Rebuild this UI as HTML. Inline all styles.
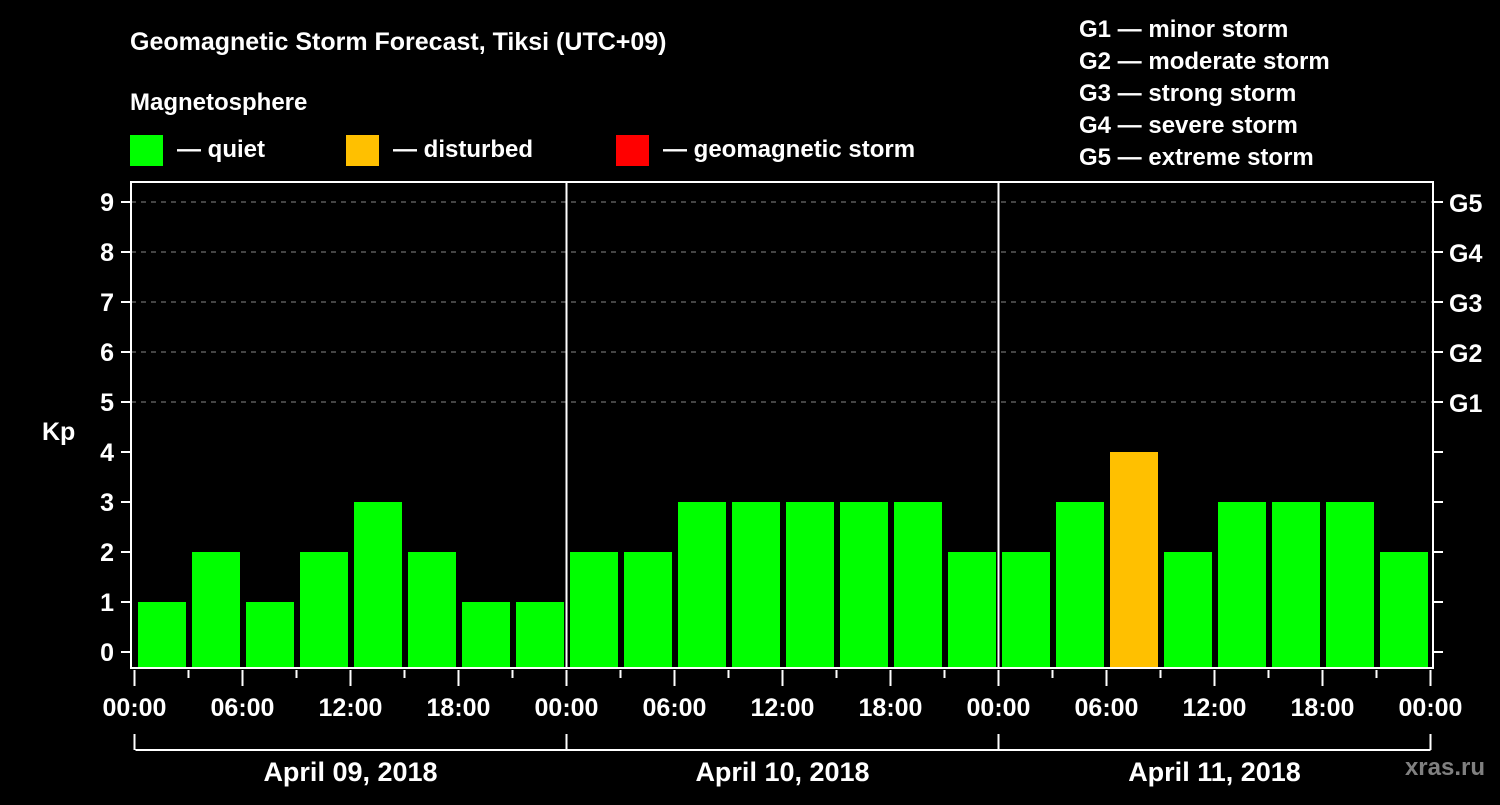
<!DOCTYPE html>
<html><head><meta charset="utf-8"><style>
body{margin:0;background:#000;width:1500px;height:800px;overflow:hidden;font-family:"Liberation Sans",sans-serif}
svg text{font-family:"Liberation Sans",sans-serif;font-weight:bold;fill:#fff}
</style></head><body>
<svg id="c" width="1500" height="800">
<text x="130" y="50" font-size="25">Geomagnetic Storm Forecast, Tiksi (UTC+09)</text>
<text x="130" y="110" font-size="24">Magnetosphere</text>
<rect x="130" y="135" width="33" height="31" fill="#00ff00"/>
<text x="177" y="157" font-size="24">— quiet</text>
<rect x="346" y="135" width="33" height="31" fill="#ffc000"/>
<text x="393" y="157" font-size="24">— disturbed</text>
<rect x="616" y="135" width="33" height="31" fill="#ff0000"/>
<text x="663" y="157" font-size="24">— geomagnetic storm</text>
<g font-size="24">
<text x="1079" y="37">G1 — minor storm</text>
<text x="1079" y="69">G2 — moderate storm</text>
<text x="1079" y="101">G3 — strong storm</text>
<text x="1079" y="133">G4 — severe storm</text>
<text x="1079" y="165">G5 — extreme storm</text>
</g>
<text x="42" y="440" font-size="25">Kp</text>
<text x="1485" y="775" font-size="24" text-anchor="end" style="fill:#808080">xras.ru</text>
<g id="plot"></g>
</svg>
<script>
const kpValues=[1,2,1,2,3,2,1,1, 2,2,3,3,3,3,3,2, 2,3,4,2,3,3,3,2];
const yTicks=[0,1,2,3,4,5,6,7,8,9];
const gLabels=["G1","G2","G3","G4","G5"];
const xTickLabels=["00:00","06:00","12:00","18:00","00:00","06:00","12:00","18:00","00:00","06:00","12:00","18:00","00:00"];
const dayLabels=["April 09, 2018","April 10, 2018","April 11, 2018"];
const NS="http://www.w3.org/2000/svg";
const g=document.getElementById('plot');
const X0=134.5,PXH=18,Y0=652,PXK=50,TOP=182,BOT=668,LEFT=131,RIGHT=1433;
const xs=h=>X0+h*PXH, ys=v=>Y0-v*PXK;
function mk(t,a){const e=document.createElementNS(NS,t);for(const k in a)e.setAttribute(k,a[k]);g.appendChild(e);return e;}
// grid
for(let v=5;v<=9;v++){const e=mk('line',{x1:LEFT,x2:RIGHT,y1:ys(v),y2:ys(v),stroke:'#888','stroke-dasharray':'5,5','stroke-width':1});

}
// bars
kpValues.forEach((v,i)=>{const c=v>=5?'#ff0000':v>=4?'#ffc000':'#00ff00';
const e=mk('rect',{x:xs(i*3)+3.5,y:ys(v),width:48,height:BOT-ys(v),fill:c});

});
// frame
const f=mk('rect',{x:LEFT,y:TOP,width:RIGHT-LEFT,height:BOT-TOP,fill:'none',stroke:'#fff','stroke-width':2});


for(let d=1;d<3;d++){const e=mk('line',{x1:xs(d*24),x2:xs(d*24),y1:TOP,y2:BOT,stroke:'#fff','stroke-width':2});

}
// y ticks
yTicks.forEach(v=>{mk('line',{x1:LEFT-10,x2:LEFT,y1:ys(v),y2:ys(v),stroke:'#fff','stroke-width':2});
mk('line',{x1:RIGHT,x2:RIGHT+10,y1:ys(v),y2:ys(v),stroke:'#fff','stroke-width':2});
const t=mk('text',{x:LEFT-17,y:ys(v)+9,'font-size':25,'text-anchor':'end'});t.textContent=v;

});
gLabels.forEach((s,i)=>{const t=mk('text',{x:1449,y:ys(5+i)+10,'font-size':25});t.textContent=s;

});
// x ticks
for(let h=0;h<=72;h+=3){const major=h%6===0;mk('line',{x1:xs(h),x2:xs(h),y1:BOT+2,y2:BOT+(major?18:10),stroke:'#fff','stroke-width':2});}
xTickLabels.forEach((s,i)=>{const t=mk('text',{x:xs(i*6),y:716,'font-size':25,'text-anchor':'middle'});t.textContent=s;

});
// day brackets
mk('line',{x1:xs(0)+1,x2:xs(72),y1:750,y2:750,stroke:'#fff','stroke-width':2});
for(let d=0;d<=3;d++)mk('line',{x1:xs(d*24),x2:xs(d*24),y1:734,y2:750,stroke:'#fff','stroke-width':2});
dayLabels.forEach((s,i)=>{const t=mk('text',{x:xs(i*24+12),y:781,'font-size':27,'text-anchor':'middle'});t.textContent=s;

});
</script>
</body></html>
